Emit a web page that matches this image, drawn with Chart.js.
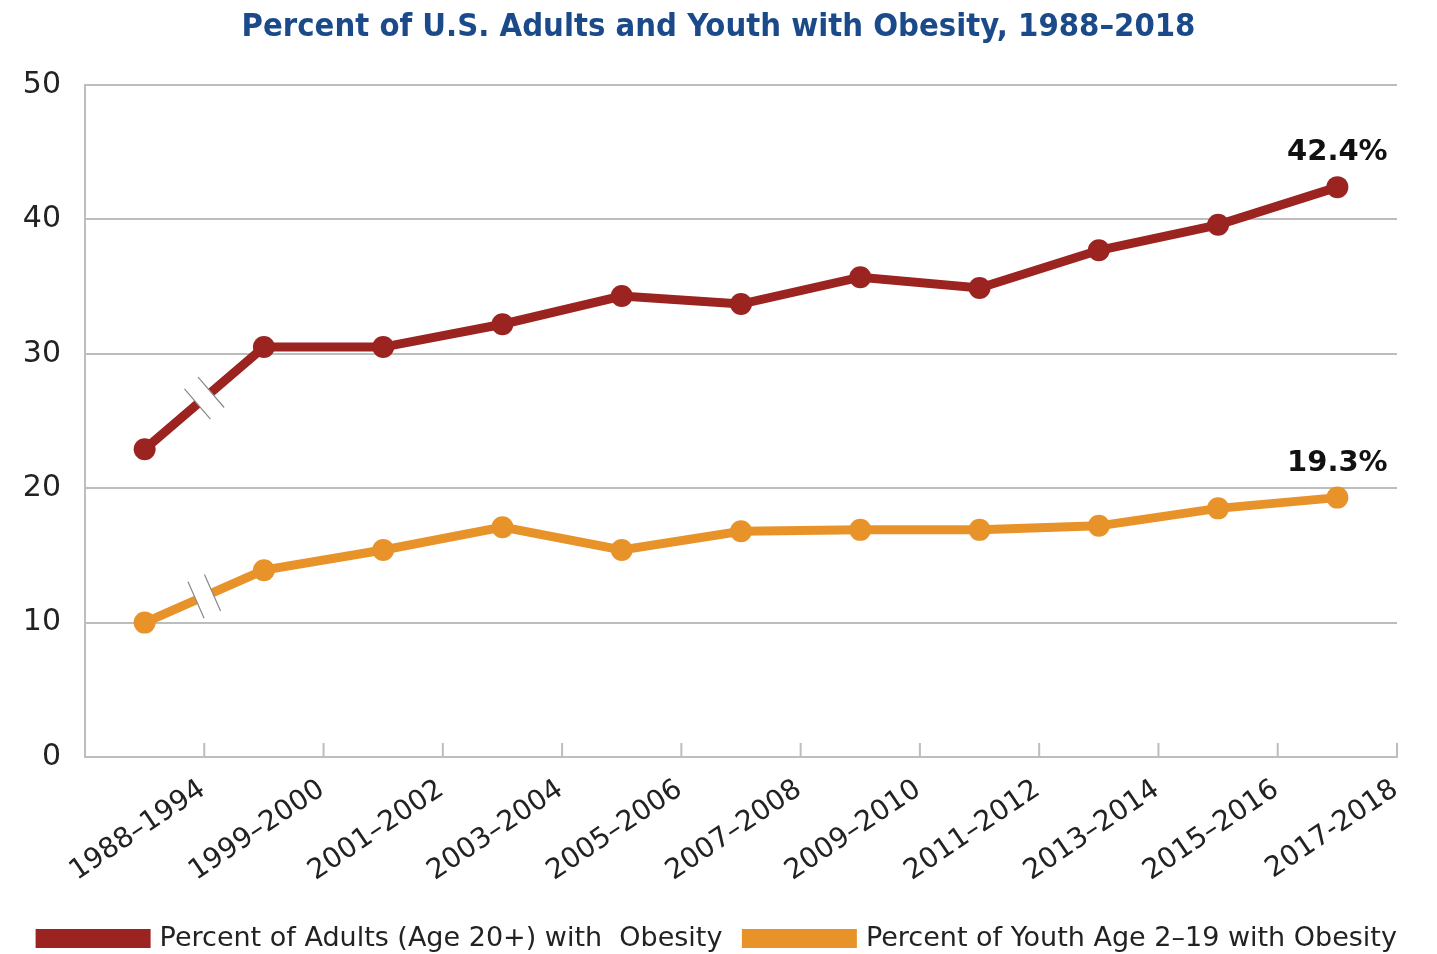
<!DOCTYPE html>
<html>
<head>
<meta charset="utf-8">
<script src="https://cdn.jsdelivr.net/npm/chart.js@4"></script>
<style>
html, body { margin: 0; padding: 0; background: #fff; }
</style>
</head>
<body>
<canvas id="obesityChart" width="1437" height="954"></canvas>
<script>
// survey periods (x axis)
var surveyYears = ['1988–1994', '1999–2000', '2001–2002', '2003–2004', '2005–2006',
  '2007–2008', '2009–2010', '2011–2012', '2013–2014', '2015–2016', '2017-2018'];
// percent with obesity
var adultValues = [22.9, 30.5, 30.5, 32.2, 34.3, 33.7, 35.7, 34.9, 37.7, 39.6, 42.4];
var youthValues = [10.0, 13.9, 15.4, 17.1, 15.4, 16.8, 16.9, 16.9, 17.2, 18.5, 19.3];
var yTicks = [0, 10, 20, 30, 40, 50];

var adultColor = '#9b2320';
var youthColor = '#e8932a';
var gridColor = '#bdbdbd';

Chart.defaults.font.family = 'DejaVu Sans';
Chart.defaults.color = '#222';

// axis-break marks on the first segment, tick marks pointing into the plot, end value labels
var extras = {
  id: 'extras',
  afterDatasetsDraw: function (chart) {
    var ctx = chart.ctx;
    chart.data.datasets.forEach(function (ds, i) {
      var pts = chart.getDatasetMeta(i).data;
      var a = pts[0], b = pts[1];
      var mx = (a.x + b.x) / 2, my = (a.y + b.y) / 2;
      var ang = Math.atan2(b.y - a.y, b.x - a.x);
      ctx.save();
      ctx.translate(mx, my);
      ctx.rotate(ang);
      ctx.fillStyle = '#fff';
      ctx.fillRect(-9, -17, 18, 34);
      ctx.strokeStyle = '#888';
      ctx.lineWidth = 1.2;
      ctx.beginPath();
      ctx.moveTo(-9, -20); ctx.lineTo(-9, 20);
      ctx.moveTo(9, -20); ctx.lineTo(9, 20);
      ctx.stroke();
      ctx.restore();

      var last = pts[pts.length - 1];
      var val = ds.data[ds.data.length - 1];
      ctx.save();
      ctx.font = 'bold 29px "DejaVu Sans"';
      ctx.fillStyle = '#111';
      ctx.textAlign = 'center';
      ctx.textBaseline = 'bottom';
      ctx.fillText(val.toFixed(1) + '%', last.x, last.y - 20);
      ctx.restore();
    });

    var xs = chart.scales.x;
    var bottom = chart.chartArea.bottom;
    ctx.save();
    ctx.strokeStyle = gridColor;
    ctx.lineWidth = 2;
    ctx.beginPath();
    for (var k = 1; k <= surveyYears.length; k++) {
      var px = k < surveyYears.length
        ? (xs.getPixelForValue(k - 1) + xs.getPixelForValue(k)) / 2
        : chart.chartArea.right;
      ctx.moveTo(px, bottom);
      ctx.lineTo(px, bottom - 14);
    }
    ctx.stroke();
    ctx.restore();
  }
};

new Chart(document.getElementById('obesityChart'), {
  type: 'line',
  data: {
    labels: surveyYears,
    datasets: [{
      label: 'Percent of Adults (Age 20+) with  Obesity',
      data: adultValues,
      borderColor: adultColor,
      backgroundColor: adultColor,
      borderWidth: 9,
      pointRadius: 11,
      pointBackgroundColor: adultColor,
      pointBorderWidth: 0,
      tension: 0
    }, {
      label: 'Percent of Youth Age 2–19 with Obesity',
      data: youthValues,
      borderColor: youthColor,
      backgroundColor: youthColor,
      borderWidth: 9,
      pointRadius: 11,
      pointBackgroundColor: youthColor,
      pointBorderWidth: 0,
      tension: 0
    }]
  },
  options: {
    responsive: false,
    animation: false,
    layout: { padding: { left: 16, right: 16, bottom: -8, top: 0 } },
    plugins: {
      title: {
        display: true,
        text: 'Percent of U.S. Adults and Youth with Obesity, 1988–2018',
        color: '#1b4a8a',
        font: { family: '"Liberation Sans Narrow", "DejaVu Sans Condensed"', size: 32.5, weight: 'bold' },
        padding: { top: 8, bottom: 38 }
      },
      legend: {
        position: 'bottom',
        labels: {
          boxWidth: 106,
          boxHeight: 10,
          padding: 24,
          color: '#222',
          font: { size: 27 }
        }
      },
      tooltip: { enabled: false }
    },
    scales: {
      x: {
        offset: true,
        afterFit: function (scale) {
          scale.paddingLeft = 0;
          scale.paddingRight = 40;
          scale.height = 144;
        },
        grid: { display: false, drawTicks: false },
        border: { display: true, color: gridColor, width: 2 },
        ticks: {
          minRotation: 34,
          maxRotation: 34,
          labelOffset: 58,
          padding: 16,
          color: '#222',
          font: { size: 28 }
        }
      },
      y: {
        min: 0,
        max: 50,
        afterBuildTicks: function (scale) {
          scale.ticks = yTicks.map(function (v) { return { value: v }; });
        },
        afterFit: function (scale) {
          scale.width = 69;
        },
        grid: { color: gridColor, lineWidth: 2, drawTicks: false },
        border: { display: true, color: gridColor, width: 2 },
        ticks: {
          padding: 24,
          color: '#222',
          font: { size: 30 }
        }
      }
    }
  },
  plugins: [extras]
});
</script>
</body>
</html>
